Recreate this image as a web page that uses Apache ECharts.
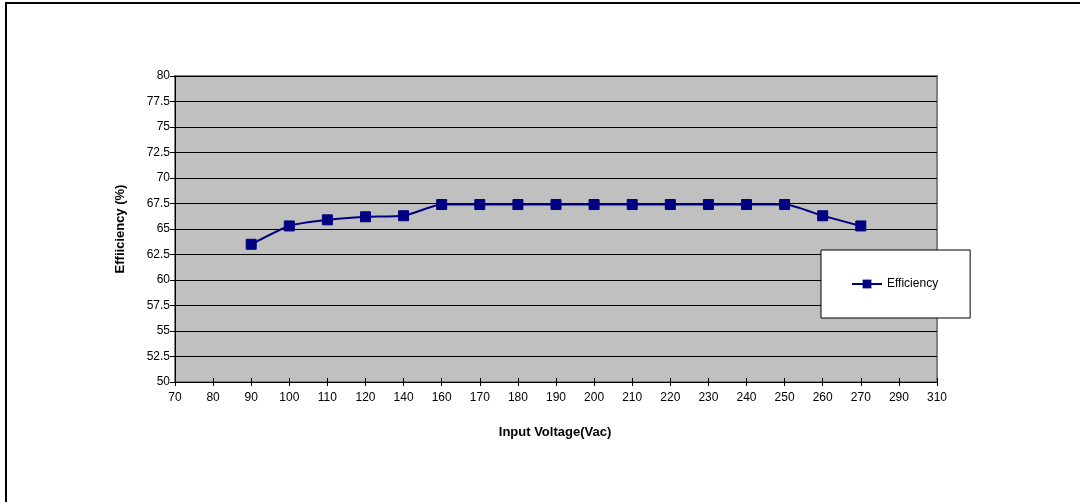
<!DOCTYPE html>
<html>
<head>
<meta charset="utf-8">
<style>html,body{margin:0;padding:0;background:#fff}#c{width:1080px;height:502px}</style>
<script src="https://cdn.jsdelivr.net/npm/echarts@6/dist/echarts.min.js"></script>
</head>
<body>
<div id="c"></div>
<script>
const categories = ['70','80','90','100','110','120','140','160','170','180','190','200','210','220','230','240','250','260','270','290','310'];
const efficiency = [null,null,63.5,65.3,65.9,66.2,66.3,67.4,67.4,67.4,67.4,67.4,67.4,67.4,67.4,67.4,67.4,66.3,65.3,null,null];
const seriesName = 'Efficiency';
const xTitle = 'Input Voltage(Vac)';
const yTitle = 'Effiiciency (%)';

const chart = echarts.init(document.getElementById('c'));
const font = 'Arial, "Liberation Sans", sans-serif';
chart.setOption({
  animation: false,
  backgroundColor: '#fff',
  grid: {left: 175, top: 76, width: 762, height: 306, show: true, backgroundColor: '#C0C0C0', borderColor: '#808080', borderWidth: 2},
  graphic: [
    {type: 'rect', shape: {x: 5, y: 2, width: 2, height: 500}, style: {fill: '#000'}},
    {type: 'rect', shape: {x: 5, y: 2, width: 1075, height: 2}, style: {fill: '#000'}},
    {type: 'text', x: 555, y: 432, style: {text: xTitle, font: 'bold 13px ' + font, fill: '#000', textAlign: 'center', textVerticalAlign: 'middle'}},
    {type: 'text', x: 120, y: 229, rotation: Math.PI / 2, style: {text: yTitle, font: 'bold 13px ' + font, fill: '#000', textAlign: 'center', textVerticalAlign: 'middle'}}
  ],
  xAxis: [{
    type: 'category', data: categories, boundaryGap: false,
    axisLine: {onZero: false, lineStyle: {color: '#000', width: 1}},
    axisTick: {show: true, length: 4, interval: 0, lineStyle: {color: '#000'}},
    axisLabel: {interval: 0, color: '#000', fontSize: 12, fontFamily: font, margin: 10},
    splitLine: {show: false}
  }, {
    type: 'category', data: categories, boundaryGap: false, position: 'bottom',
    axisLine: {show: false, onZero: false},
    axisTick: {show: true, inside: true, length: 4, interval: 0, lineStyle: {color: '#000'}},
    axisLabel: {show: false}, splitLine: {show: false}
  }],
  yAxis: {
    type: 'value', min: 50, max: 80, interval: 2.5,
    axisLine: {show: true, lineStyle: {color: '#000', width: 1}},
    axisTick: {show: true, length: 5, lineStyle: {color: '#000'}},
    axisLabel: {color: '#000', fontSize: 12, fontFamily: font, margin: 5},
    splitLine: {show: true, lineStyle: {color: '#000', width: 1}}
  },
  legend: {
    left: 821, top: 250, orient: 'vertical',
    backgroundColor: '#fff', borderColor: '#000', borderWidth: 1, borderRadius: 0,
    padding: [28, 32, 28, 30],
    itemWidth: 30, itemHeight: 11, itemGap: 5,
    textStyle: {color: '#000', fontSize: 12, fontFamily: font},
    data: [seriesName]
  },
  series: [{
    name: seriesName, type: 'line', data: efficiency, smooth: 0.2,
    symbol: 'rect', symbolSize: 10, showSymbol: true,
    lineStyle: {color: '#000080', width: 2},
    itemStyle: {color: '#000080', borderColor: '#000080'}
  }]
});
</script>
</body>
</html>
